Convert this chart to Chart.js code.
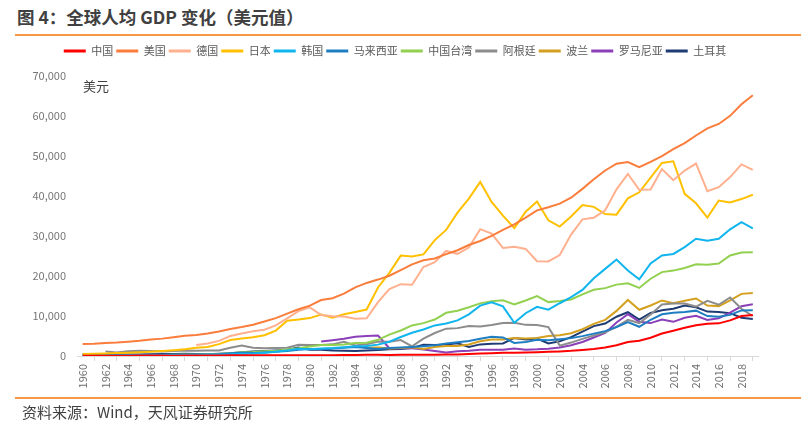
<!DOCTYPE html>
<html><head><meta charset="utf-8">
<script src="https://cdn.jsdelivr.net/npm/chart.js@4/dist/chart.umd.min.js"></script>
<style>
html,body{margin:0;padding:0;background:#fff;width:812px;height:426px;overflow:hidden;font-family:"Noto Sans CJK SC",sans-serif;}
#wrap{position:relative;width:812px;height:426px;}
#title{position:absolute;left:17px;top:5px;font-size:17.5px;line-height:24px;font-weight:bold;color:#404040;white-space:nowrap;}
.rule{position:absolute;left:15px;width:786px;height:2px;background:#F79646;}
#src{position:absolute;left:22px;top:401px;font-size:15px;line-height:21px;color:#404040;white-space:nowrap;}
#unit{position:absolute;left:83px;top:77px;font-size:13px;line-height:18px;color:#404040;}
canvas{position:absolute;left:0;top:0;}
</style></head>
<body><div id="wrap">
<div id="title">图 4：全球人均 GDP 变化（美元值）</div>
<div class="rule" style="top:34px"></div>
<canvas id="c" width="812" height="426"></canvas>
<div id="unit">美元</div>
<div class="rule" style="top:397px"></div>
<div id="src">资料来源：Wind，天风证券研究所</div>
</div>
<script>
const years = ["1960","1961","1962","1963","1964","1965","1966","1967","1968","1969",
"1970","1971","1972","1973","1974","1975","1976","1977","1978","1979",
"1980","1981","1982","1983","1984","1985","1986","1987","1988","1989",
"1990","1991","1992","1993","1994","1995","1996","1997","1998","1999",
"2000","2001","2002","2003","2004","2005","2006","2007","2008","2009",
"2010","2011","2012","2013","2014","2015","2016","2017","2018","2019"];
const yTicks = [0,10000,20000,30000,40000,50000,60000,70000];
const N = null;
const china = [90,76,70,74,85,98,104,97,91,100, 113,119,132,157,160,178,165,185,156,184, 195,197,203,225,251,294,282,252,284,311, 318,333,366,377,473,610,709,782,829,873, 959,1053,1149,1289,1509,1753,2099,2694,3468,3832, 4550,5618,6317,7051,7679,8067,8148,8879,9977,10217];
const usa = [3007,3067,3244,3375,3574,3828,4146,4336,4696,5032, 5234,5609,6094,6726,7226,7801,8592,9453,10565,11674, 12575,13976,14434,15544,17121,18237,19071,20039,21417,22857, 23889,24342,25419,26387,27695,28691,29968,31459,32854,34515, 36335,37133,38023,39497,41713,44115,46299,47976,48383,47100, 48467,49887,51603,53107,55033,56803,57904,59928,62805,65095];
const germany = [N,N,N,N,N,N,N,N,N,N, 2761,3116,3776,5000,5600,6150,6560,7620,9400,11200, 12138,10209,9913,9864,9313,9429,13463,16677,17931,17764, 22220,23431,26219,25498,27073,31659,30560,26965,27290,26726, 23636,23608,25197,30310,34107,34520,36354,41587,45427,41486, 41532,46645,43858,46286,48024,41103,42136,44653,47811,46468];
const japan = [479,564,633,718,836,919,1058,1228,1450,1669, 2037,2272,2967,3997,4354,4659,5198,6335,8821,9105, 9463,10361,9578,10425,10984,11585,17112,20745,25052,24813, 25359,28925,31465,35766,39269,43440,38437,35022,31903,36027, 38532,33846,32289,34808,37689,37218,35434,35275,39339,40855, 44508,48168,48603,40454,38109,34524,38794,38332,39159,40247];
const korea = [158,94,106,146,124,108,133,161,198,243, 279,301,323,406,563,617,834,1055,1405,1783, 1715,1883,1993,2199,2413,2482,2835,3555,4749,5817, 6610,7637,8127,8885,10385,12565,13403,12398,8282,10672, 12257,11562,13165,14673,16496,19403,21743,24086,21350,19144, 23087,25096,25467,27180,29253,28737,29274,31617,33423,31846];
const malaysia = [235,224,235,249,256,275,286,289,300,323, 357,386,443,660,801,765,889,1030,1251,1578, 1775,1770,1852,2048,2234,2000,1729,1966,2109,2256, 2441,2653,3114,3433,3728,4329,4799,4638,3264,3493, 4044,3914,4166,4462,4962,5587,6209,7243,8475,7292, 9041,10399,10817,10970,11319,9955,9818,10259,11378,11414];
const taiwan = [164,153,166,181,203,217,237,267,304,345, 393,451,523,697,928,976,1158,1317,1604,1934, 2389,2725,2715,2891,3224,3314,4036,5350,6370,7626, 8205,9095,10778,11284,12160,13129,13643,13882,12871,13837, 14941,13448,13750,14120,15388,16532,16934,17814,18131,16988, 19278,20939,21308,21973,22874,22780,23091,25080,25838,25909];
const argentina = [N,N,1155,850,1173,1279,1273,1141,1217,1386, 1317,1402,1375,2059,2640,2077,1958,1999,2064,2785, 2737,2753,2906,3531,2640,2906,3597,3551,3972,2390, 4333,5735,6820,6956,7480,7389,7709,8206,8282,7770, 7708,7208,2593,3350,4277,5110,5919,7245,9021,8225, 10386,12849,13083,13080,12335,13789,12790,14613,11795,9963];
const poland = [N,N,N,N,N,N,N,N,N,N, N,N,N,N,N,N,N,N,N,N, N,N,N,N,N,2050,2100,1900,2000,2150, 1731,2235,2482,2479,2871,3687,4111,4123,4505,4363, 4501,4991,5206,5701,6682,8022,9016,11255,13996,11527, 12600,13865,13146,13781,14344,12578,12448,13886,15505,15732];
const romania = [N,N,N,N,N,N,N,N,N,N, N,N,N,N,N,N,N,N,N,N, N,3600,3950,4300,4800,5000,5100,1950,1990,1950, 1650,1250,870,1160,1320,1560,1570,1570,1870,1580, 1660,1830,2120,2680,3490,4620,5760,8360,10435,8548, 8214,9101,8528,9550,10036,8977,9404,10808,12400,12914];
const turkey = [509,283,310,350,369,386,444,481,526,571, 489,453,561,683,919,1133,1271,1397,1546,2099, 1564,1579,1401,1306,1249,1378,1528,1695,1749,2021, 2795,2736,2842,3180,2270,2897,3053,3144,4507,4140, 4337,3119,3660,4719,6102,7457,8101,9792,10931,9104, 10742,11420,11796,12615,12179,11085,10964,10696,9568,9215];

const seriesNames = ["中国","美国","德国","日本","韩国","马来西亚","中国台湾","阿根廷","波兰","罗马尼亚","土耳其"];
const seriesData = [china,usa,germany,japan,korea,malaysia,taiwan,argentina,poland,romania,turkey];
const seriesColors = ["#FF0000","#FA7D3C","#FFB08F","#FFC000","#11B5EE","#1F7EC2","#92D050","#8C8C8C","#D4A020","#8B3FB8","#1F3B73"];

Chart.defaults.font.family = '"Noto Sans CJK SC", sans-serif';
Chart.defaults.color = '#595959';

const legendGap = {
  id: 'legendGap',
  beforeLayout(chart) {
    const lg = chart.legend;
    if (lg && !lg._gapPatched) {
      const f = lg.fit;
      lg.fit = function () { f.call(this); this.height += 9; };
      lg._gapPatched = true;
    }
  }
};

new Chart(document.getElementById('c'), {
  type: 'line',
  data: {
    labels: years,
    datasets: seriesNames.map((n, i) => ({
      label: n,
      data: seriesData[i],
      borderColor: seriesColors[i],
      backgroundColor: seriesColors[i],
      borderWidth: 2,
      pointRadius: 0,
      tension: 0,
      fill: false
    }))
  },
  options: {
    responsive: false,
    animation: false,
    layout: { padding: { top: 42.5, left: 31.5, right: 53.5, bottom: 32 } },
    plugins: {
      tooltip: { enabled: false },
      legend: {
        position: 'top',
        labels: {
          boxWidth: 22, boxHeight: 3, padding: 3,
          font: { size: 11 }, color: '#595959',
          generateLabels: (chart) => Chart.defaults.plugins.legend.labels.generateLabels(chart).map(l => Object.assign(l, { lineWidth: 0 }))
        }
      }
    },
    scales: {
      x: {
        type: 'category',
        offset: true,
        grid: { display: true, drawOnChartArea: false, drawTicks: true, tickLength: 5, color: '#D9D9D9', offset: true },
        border: { display: true, color: '#D9D9D9' },
        ticks: {
          autoSkip: false, minRotation: 90, maxRotation: 90, padding: 3,
          font: { size: 11 }, color: '#6E6E6E',
          callback: function (v, i) { return i % 2 === 0 ? this.getLabelForValue(v) : null; }
        },
        afterFit: (s) => { s.height = 38; }
      },
      y: {
        min: yTicks[0], max: yTicks[yTicks.length - 1],
        grid: { display: false, drawTicks: false },
        border: { display: false },
        afterBuildTicks: (s) => { s.ticks = yTicks.map(v => ({ value: v })); },
        ticks: {
          padding: 11, font: { size: 11 }, color: '#767676',
          callback: (v) => v.toLocaleString('en-US')
        },
        afterFit: (s) => { s.width = 45.5; }
      }
    }
  },
  plugins: [legendGap]
});
</script>
</body></html>
